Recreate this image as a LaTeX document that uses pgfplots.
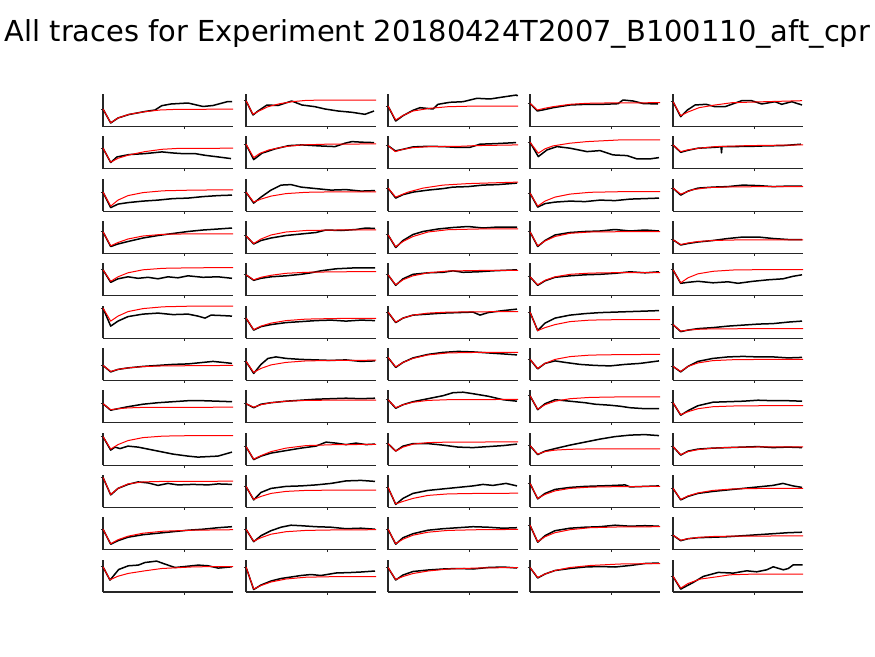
\documentclass[border=0pt]{standalone}
\usepackage{pgfplots}
\pgfplotsset{compat=1.18}
\usepackage{fontspec}
\setmainfont{DejaVu Sans}

\pgfplotsset{
  panel/.style={
    scale only axis, width=130pt, height=32.5pt,
    xmin=0, xmax=130, ymin=0, ymax=32.5,
    axis x line*=bottom, axis y line*=left,
    axis line style={-, line width=1.1pt, black!85},
    xtick={81.5}, xticklabels={}, yticklabels={},
    tick align=outside, major tick length=2.5pt,
    tick style={line width=0.8pt, black!85},
    clip=false, anchor=south west,
  },
}

% #1 left edge, #2 bottom edge (px from top), #3 start level, #4 trace, #5 fit
\newcommand{\panel}[5]{%
  \begin{axis}[panel, at={(#1pt,-#2pt)}, ytick={#3}]
    \addplot[black, line width=1.5pt, line join=round] coordinates {#4};
    \addplot[red, line width=1pt, line join=round] coordinates {#5};
  \end{axis}}

\begin{document}
\begin{tikzpicture}
\path[use as bounding box] (0pt,0pt) rectangle (875pt,-656pt);
\node[anchor=base, inner sep=0pt, font=\fontsize{28.9}{30}\selectfont] at (437.5pt,-41.5pt)
  {All traces for Experiment 20180424T2007\_B100110\_aft\_cpr};

% row 1
\panel{103}{126.5}{17.5}{(0,17.5)(7.7,3.5)(15,8.5)(26,12)(42,15)(52,16.5)(58.7,20.8)(68,22.5)(85,23.5)(100,20)(110,21)(125,25)(129,25)}
  {(0,17.5)(7.7,3.8)(15,8.5)(26,12.2)(42,14.8)(57,16.5)(75,17.2)(130,17.3)}
\panel{246}{126.5}{25.8}{(0,25.8)(7,11.5)(12,15.5)(21,21.5)(32,21)(45.7,25.5)(56,21.5)(69,19.8)(79,17.5)(92,15.5)(106,14.2)(119,12.2)(128,15.5)}
  {(0,25.8)(7,12.2)(12,15)(22,19.8)(34,22.8)(46,24.8)(60,26.1)(80,26.5)(130,26.5)}
\panel{388}{126.5}{20.5}{(0,20.5)(7.7,5.5)(15,10.8)(25,16.2)(32,18.8)(45,17.5)(50,22.2)(62,24.2)(75,24.8)(89,28.2)(102,27.5)(115,29.5)(128.5,31.5)(129.5,30.5)}
  {(0,20.5)(7.7,6.5)(15,11)(25,15.5)(42,18.2)(60,19.8)(85,20.4)(130,20.5)}
\panel{530}{126.5}{23.2}{(0,23.2)(7.3,15.5)(15,17)(23,18.8)(40,21.5)(57,22.2)(73,22.2)(88,22.8)(93,26.5)(103,25.5)(113,23)(128,22.5)}
  {(0,23.2)(7.3,16.5)(15,18.3)(23,19.8)(40,22.2)(57,23.2)(80,23.6)(130,23.8)}
\panel{673}{126.5}{24.8}{(0,24.8)(7.7,9.8)(14,16.2)(22,21.5)(33,22.2)(42,19.8)(52,19.8)(68.7,25.8)(78.7,25.8)(88.7,22.5)(102,24.8)(108.7,22.2)(118.7,24.8)(129,21.5)}
  {(0,24.8)(7.7,10.8)(15,14.5)(26,18.8)(42,21.5)(59,23.8)(92,24.8)(129,25.8)}

% row 2
\panel{103}{168.8}{20.6}{(0,20.6)(7.7,6.3)(14,11.9)(26,14.2)(42,15.2)(59,16.9)(69,15.9)(79,15.2)(92,15.2)(102,13.5)(115,11.9)(128,10.2)}
  {(0,20.6)(7.7,6.6)(15,10.5)(26,13.9)(42,17.2)(59,19.5)(75,20.4)(130,20.6)}
\panel{246}{168.8}{24.6}{(0,24.6)(7.7,9.2)(16,15.6)(29,19.9)(43,23.2)(56,23.9)(73,22.9)(89,22.2)(99,25.6)(106,27.2)(116,26.6)(128,26.2)}
  {(0,24.6)(7.7,11.2)(14,15.5)(23,18.9)(39,22.2)(56,23.9)(80,24.6)(130,24.9)}
\panel{388}{168.8}{23.2}{(0,23.2)(7.3,17.9)(15,19.5)(25,21.9)(40,22.5)(55,22.2)(67,21.5)(82,21.5)(92,24.6)(108,25.2)(128,26.2)}
  {(0,23.2)(7.3,17.2)(15,19.5)(25,21.2)(42,22.2)(70,22.4)(88,23.2)(130,23.9)}
\panel{530}{168.8}{26.6}{(0,26.6)(8.3,12.2)(17,18.9)(27,22.2)(40,20.6)(57,17.2)(70,18.2)(83,13.9)(97,13.2)(107,9.9)(120,9.9)(129,11.2)}
  {(0,26.6)(8.3,15.6)(15,20)(23,22.9)(40,25.6)(57,27.2)(90,28.9)(130,28.9)}
\panel{673}{168.8}{23.9}{(0,23.9)(7.7,16.5)(15,18.5)(25,20.6)(42,21.5)(48,22)(48.5,16)(49,22.2)(59,22.2)(80,22.5)(92,22.9)(110,23.2)(128,24.6)}
  {(0,23.9)(7.7,17.2)(15,19)(26,20.6)(42,22.2)(76,23.2)(130,23.9)}

% row 3
\panel{103}{211.1}{19}{(0,19)(7.7,3.5)(15,7)(25,8.5)(40,10)(55,11)(70,12.5)(85,13)(100,14.5)(115,15.5)(129,16)}
  {(0,19)(7.7,5)(15,11)(25,15.5)(40,18.5)(60,20.3)(90,21)(130,21.3)}
\panel{246}{211.1}{19}{(0,19)(7.7,8)(15,14)(25,21)(35,26)(45,26.5)(55,24)(70,22.5)(85,21)(100,21.5)(115,20)(129,20.5)}
  {(0,19)(7.7,9)(15,12)(25,15)(40,17.5)(60,18.8)(90,19.3)(130,19.3)}
\panel{388}{211.1}{23}{(0,23)(7.7,13)(15,16.5)(25,19)(40,21)(55,22.5)(65,24)(80,24.5)(95,26)(110,26.5)(129,28)}
  {(0,23)(7.7,14)(20,19)(35,23)(55,26)(80,27.5)(130,29)}
\panel{530}{211.1}{18}{(0,18)(7.7,4)(15,7.5)(25,9)(40,10)(55,9.5)(70,11)(85,10.5)(100,12)(115,12.5)(129,13)}
  {(0,18)(7.7,5)(15,10)(25,14)(40,17)(60,18.8)(90,19.4)(130,19.5)}
\panel{673}{211.1}{23}{(0,23)(7.7,16)(15,20)(25,23)(40,24)(55,24.5)(70,26)(85,25.5)(100,24.5)(115,25)(129,25)}
  {(0,23)(7.7,17)(20,21.5)(35,23.5)(60,24.3)(130,24.5)}

% row 4
\panel{103}{253.5}{21.7}{(0,21.7)(7.7,7)(15,9.5)(25,12)(40,15.5)(55,18)(70,20)(85,22)(100,23.5)(115,24.5)(129,25.5)}
  {(0,21.7)(7.7,7.7)(15,11)(25,14.5)(40,17.5)(60,19.2)(90,19.7)(130,19.7)}
\panel{246}{253.5}{17.7}{(0,17.7)(7.7,9.5)(15,13)(25,15.5)(40,18)(55,19.5)(70,21)(80,23.5)(95,23)(110,24)(120,25.5)(129,25)}
  {(0,17.7)(7.7,10)(15,14.5)(25,18.5)(40,21.5)(60,23)(90,23.5)(130,23.7)}
\panel{388}{253.5}{18.7}{(0,18.7)(7.7,6)(15,13)(25,19)(35,22)(50,24.5)(65,26)(80,27)(95,25.5)(110,26.5)(129,26.5)}
  {(0,18.7)(7.7,6.7)(15,12)(25,17)(40,21.5)(60,23.8)(90,24.5)(130,24.7)}
\panel{530}{253.5}{21.7}{(0,21.7)(7.7,7)(15,13)(25,18.5)(40,21)(55,22)(70,22.5)(85,24)(100,22.5)(115,23.5)(129,22.5)}
  {(0,21.7)(7.7,7.7)(15,12.5)(25,17)(40,20.2)(60,21.5)(90,21.8)(130,21.8)}
\panel{673}{253.5}{13.7}{(0,13.7)(7.7,8.5)(15,10)(25,11.5)(40,13)(55,15)(70,16.5)(85,16.5)(100,15)(115,14)(129,14)}
  {(0,13.7)(7.7,9)(15,10.5)(25,12)(40,13)(60,13.5)(130,13.7)}

% row 5
\panel{103}{295.8}{26}{(0,26)(7.7,13.5)(15,17)(25,19)(35,17.5)(45,18.5)(55,17)(65,19)(75,18)(85,20)(100,18.5)(115,19)(129,17.5)}
  {(0,26)(7.7,14.5)(15,19)(25,23)(40,26)(60,27.5)(90,28)(130,28.2)}
\panel{246}{295.8}{21}{(0,21)(7.7,15.5)(15,17.5)(25,19)(40,20)(55,21.5)(65,23)(75,25)(90,27)(110,28)(129,28)}
  {(0,21)(7.7,16)(15,18.5)(25,20.5)(40,22.5)(60,23.5)(90,24)(130,24.2)}
\panel{388}{295.8}{21}{(0,21)(7.7,10.5)(15,17)(25,21.5)(40,23)(55,23.5)(65,25)(75,23.5)(90,24)(105,25)(129,26)}
  {(0,21)(7.7,11)(15,16)(25,20)(40,23)(60,24.8)(90,25.3)(130,25.5)}
\panel{530}{295.8}{19}{(0,19)(7.7,10.5)(15,15)(25,18.5)(40,20)(55,21)(70,21.5)(85,22.5)(100,24)(115,23)(129,24)}
  {(0,19)(7.7,11)(15,15.5)(25,19)(40,21.5)(60,22.7)(90,23.2)(130,23.3)}
\panel{673}{295.8}{26}{(0,26)(7.7,12.5)(15,13.5)(25,14.5)(40,13)(55,14)(65,12.5)(80,14.5)(95,16)(110,17)(120,19.5)(129,21)}
  {(0,26)(7.7,13)(15,18)(25,22)(40,24.5)(60,25.8)(90,26.2)(130,26.3)}

% row 6
\panel{103}{338.1}{30}{(0,30)(7.7,12)(15,17)(25,21.5)(40,24)(55,25)(70,23.5)(85,24)(95,22)(102,20)(108,23)(120,22.5)(129,22)}
  {(0,30)(7.7,17)(15,22)(25,26.5)(40,29.5)(60,31.3)(90,32)(130,32)}
\panel{246}{338.1}{20}{(0,20)(7.7,8)(15,11.5)(25,13.5)(40,15.5)(55,16.5)(70,17.5)(85,18)(100,17)(115,18)(129,17.5)}
  {(0,20)(7.7,8.5)(15,12)(25,15)(40,17.5)(60,19)(90,19.6)(130,19.8)}
\panel{388}{338.1}{26}{(0,26)(7.7,15.5)(15,20)(25,23)(40,24)(55,25)(70,25.5)(85,26)(92,23)(100,25.5)(115,27.5)(129,29)}
  {(0,26)(7.7,16)(15,20)(25,23)(40,25)(60,26)(90,26.3)(130,26.5)}
\panel{530}{338.1}{26}{(0,26)(7.7,7.5)(15,15)(25,20)(40,23)(55,24.5)(70,25.5)(85,26)(100,26.5)(115,27)(129,27.5)}
  {(0,26)(7.7,7.5)(15,10.5)(25,13.5)(40,16.5)(60,18)(90,18.5)(130,18.5)}
\panel{673}{338.1}{13.5}{(0,13.5)(7.7,6.5)(15,8)(25,9.5)(40,10.5)(55,12)(70,13)(85,14)(100,14.5)(115,16)(129,17)}
  {(0,13.5)(7.7,7)(15,8)(25,8.8)(40,9.3)(130,9.5)}

% row 7
\panel{103}{380.4}{15}{(0,15)(7.7,8.5)(15,11)(25,12.5)(40,14)(55,15)(70,16)(85,16.5)(100,18)(110,19)(120,18)(129,17)}
  {(0,15)(7.7,9)(15,11)(25,12.5)(40,13.8)(60,14.5)(130,15)}
\panel{246}{380.4}{19}{(0,19)(7.7,7)(15,16)(22,22)(30,23.5)(40,22)(55,21)(70,20.5)(85,20)(100,20.5)(115,19)(129,19.5)}
  {(0,19)(7.7,8)(15,12)(25,15.5)(40,18)(60,19.5)(90,20)(130,20.2)}
\panel{388}{380.4}{23}{(0,23)(7.7,13)(15,18)(25,22.5)(40,26)(55,28)(70,29)(85,28.5)(100,27.5)(115,26.5)(129,25.5)}
  {(0,23)(7.7,13.5)(15,18)(25,22)(40,25.5)(60,27.5)(90,28)(130,28)}
\panel{530}{380.4}{21}{(0,21)(7.7,11.5)(15,17)(25,19.5)(35,18)(50,16)(65,15)(80,14.5)(95,16)(110,17)(129,19.5)}
  {(0,21)(7.7,12)(15,17)(25,21)(40,23.8)(60,25.3)(90,25.8)(130,26)}
\panel{673}{380.4}{14}{(0,14)(7.7,8.5)(15,14)(25,19)(40,22)(55,23.5)(70,24)(85,23.5)(100,23.5)(115,22.5)(129,23)}
  {(0,14)(7.7,9)(15,14)(25,17.5)(40,19.8)(60,20.7)(90,21)(130,21)}

% row 8
\panel{103}{422.7}{19}{(0,19)(7.7,12.5)(15,14)(25,16)(40,18.5)(55,20)(70,21)(85,22)(100,22)(115,21.5)(129,21)}
  {(0,19)(7.7,13)(15,14)(25,14.8)(40,15.3)(130,15.5)}
\panel{246}{422.7}{19}{(0,19)(7.7,15)(15,18.5)(25,20)(40,21.5)(55,22.5)(70,23.5)(85,24)(100,24.5)(115,24)(129,24.5)}
  {(0,19)(7.7,15.5)(15,18)(25,20)(40,21.5)(60,22.3)(90,22.6)(130,22.7)}
\panel{388}{422.7}{23}{(0,23)(7.7,14.5)(15,18)(25,21)(40,24)(55,27)(65,30)(75,30.5)(85,29)(100,26.5)(115,23)(129,21.5)}
  {(0,23)(7.7,15)(15,18)(25,20.5)(40,22.3)(60,23)(130,23.3)}
\panel{530}{422.7}{27}{(0,27)(7.7,13)(15,19)(25,23)(40,21.5)(55,20)(65,18.5)(80,17.5)(90,16.5)(100,15)(115,14)(129,14)}
  {(0,27)(7.7,13.5)(15,18)(25,21.5)(40,24)(60,25.3)(90,25.8)(130,25.8)}
\panel{673}{422.7}{20}{(0,20)(7.7,7.5)(15,12)(25,17)(40,20.5)(55,21)(70,21.5)(85,22.5)(100,22)(115,22)(129,21.5)}
  {(0,20)(7.7,8)(15,11)(25,14)(40,16)(60,16.7)(90,17)(130,17)}

% row 9
\panel{103}{465.1}{28.5}{(0,28.5)(7.7,15)(12,18)(17,16.5)(25,19)(35,18)(45,16)(55,14)(70,11)(85,9)(95,8)(105,8.5)(115,9)(122,11)(129,13)}
  {(0,28.5)(7.7,16)(15,20.5)(25,24.5)(40,27.5)(60,29)(90,29.5)(130,29.5)}
\panel{246}{465.1}{18.5}{(0,18.5)(7.7,5.5)(15,9)(25,12)(40,14.5)(55,17)(70,19)(80,23)(90,22)(100,20.5)(110,22)(120,20.5)(129,21)}
  {(0,18.5)(7.7,6)(15,9.5)(25,13.5)(40,17)(60,19.5)(90,20.5)(130,20.7)}
\panel{388}{465.1}{21.5}{(0,21.5)(7.7,14)(15,19)(25,21.5)(40,21.5)(55,20)(70,18)(85,17.5)(100,18.5)(115,19.5)(129,21)}
  {(0,21.5)(7.7,14)(15,18)(25,21)(40,22.5)(60,23)(130,23.2)}
\panel{530}{465.1}{19.5}{(0,19.5)(7.7,10.5)(15,14)(25,16.5)(40,20)(55,23)(70,26)(85,28.5)(100,30)(115,30.5)(129,29.5)}
  {(0,19.5)(7.7,11)(15,13.5)(25,15)(40,15.8)(60,16.2)(130,16.3)}
\panel{673}{465.1}{18.5}{(0,18.5)(7.7,10)(15,14)(25,16)(40,17)(55,17.5)(70,18)(85,18.5)(100,17.5)(115,18)(129,17.5)}
  {(0,18.5)(7.7,10.5)(15,13.5)(25,15.5)(40,17)(60,17.8)(90,18.2)(130,18.3)}

% row 10
\panel{103}{507.4}{30}{(0,30)(7.7,12.5)(15,19)(25,23)(35,25.5)(45,24.5)(55,22)(65,24)(75,22.5)(90,23)(105,22.5)(115,23.5)(129,23)}
  {(0,30)(7.7,13)(15,19)(25,23.5)(40,25.5)(60,26)(130,26.2)}
\panel{246}{507.4}{21}{(0,21)(7.7,7.5)(15,15)(25,19)(40,21)(55,21.5)(70,22.5)(85,24)(100,26.5)(115,27)(129,26)}
  {(0,21)(7.7,8)(15,11)(25,14)(40,16)(60,17)(90,17.3)(130,17.4)}
\panel{388}{507.4}{20}{(0,20)(7.7,3)(15,9)(25,14)(40,17)(55,18.5)(70,20)(85,21.5)(95,23)(105,22)(118,24)(129,21.5)}
  {(0,20)(7.7,3.5)(15,6)(25,9)(40,12)(60,13.5)(90,14)(130,14.2)}
\panel{530}{507.4}{24}{(0,24)(7.7,8.5)(15,14)(25,18)(40,20)(55,21)(70,21.5)(85,22)(95,22.5)(100,20.5)(115,21)(129,21.5)}
  {(0,24)(7.7,9)(15,13)(25,16.5)(40,19)(60,20.3)(90,20.8)(130,21)}
\panel{673}{507.4}{19}{(0,19)(7.7,7.5)(15,11)(25,14)(40,16)(55,17.5)(70,19)(85,20.5)(100,22)(110,24)(120,21.5)(129,20)}
  {(0,19)(7.7,8)(15,11.5)(25,14.5)(40,17)(60,18.5)(90,19)(130,19.1)}

% row 11
\panel{103}{549.7}{20.5}{(0,20.5)(7.7,5.5)(15,9)(25,12.5)(40,15)(55,16.5)(70,18)(85,19.5)(100,20.5)(115,22)(129,23)}
  {(0,20.5)(7.7,6)(15,10)(25,13.5)(40,16.5)(60,18.5)(90,19.5)(130,20)}
\panel{246}{549.7}{20.5}{(0,20.5)(7.7,8)(15,14)(25,19)(35,22.5)(45,24.5)(55,24)(70,23)(85,22.5)(100,21)(115,21.5)(129,20.5)}
  {(0,20.5)(7.7,8.5)(15,12)(25,15.5)(40,18)(60,19.3)(90,19.8)(130,20)}
\panel{388}{549.7}{20.5}{(0,20.5)(7.7,5.5)(15,12)(25,16)(40,19.5)(55,21)(70,22)(85,23)(100,22.5)(115,21.5)(129,22)}
  {(0,20.5)(7.7,6)(15,10.5)(25,14.5)(40,17.5)(60,19.3)(90,20)(130,20.3)}
\panel{530}{549.7}{24.5}{(0,24.5)(7.7,7.5)(15,14)(25,19)(40,21.5)(55,22.5)(70,23)(85,24.5)(100,23.5)(115,24)(129,23.5)}
  {(0,24.5)(7.7,8)(15,13)(25,17)(40,20)(60,22)(90,22.8)(130,23)}
\panel{673}{549.7}{14.5}{(0,14.5)(7.7,9)(15,11)(25,12)(40,12.5)(55,13)(70,14)(85,15)(100,16)(115,17)(129,17.5)}
  {(0,14.5)(7.7,9.5)(15,11)(25,12.3)(40,13.2)(60,13.6)(130,13.8)}

% row 12
\panel{103}{592}{25.2}{(0,25.2)(7,11.9)(15.7,22.5)(25.3,26.2)(35.3,26.9)(42,29.5)(53.7,30.9)(62,27.9)(72,24.5)(82,25.5)(95.3,26.9)(105.3,26.2)(115.3,23.9)(128.7,25.2)}
  {(0,25.2)(7,12.2)(15,15.8)(25.3,18.6)(42,21.2)(58.7,23.5)(92,25.2)(130,25.5)}
\panel{246}{592}{25}{(0,25)(7.7,2.5)(15,7)(25,11)(35,13.5)(45,15)(55,16.5)(65,17.5)(75,16.5)(90,19)(105,19.5)(115,20)(129,21)}
  {(0,25)(7.7,3)(15,6.5)(25,10)(40,13)(60,14.8)(90,15.4)(130,15.5)}
\panel{388}{592}{24.5}{(0,24.5)(7.7,12)(15,17)(25,20.5)(40,22)(55,23)(70,23.5)(85,23)(100,24.5)(115,25)(129,24)}
  {(0,24.5)(7.7,12.5)(15,15.5)(25,18.5)(40,21)(60,23)(90,24)(130,24.5)}
\panel{530}{592}{24.5}{(0,24.5)(7.7,14)(15,18)(25,21.5)(40,23.5)(55,25)(70,25.5)(85,25)(100,26.5)(115,28.5)(129,29)}
  {(0,24.5)(7.7,14.5)(15,18)(25,21.5)(40,24.5)(60,26.5)(90,28)(130,28.5)}
\panel{673}{592}{15.6}{(0,15.6)(7.7,2.9)(20.3,9.6)(30.3,15.6)(45.3,19.6)(60.3,18.9)(73.7,21.2)(83.7,20.2)(93.7,22.2)(100.3,25.2)(110.3,22.2)(115.3,23.5)(120.3,27.2)(129.7,27.2)}
  {(0,15.6)(7.7,3.9)(15,8.5)(27,12.9)(43.7,15.2)(57,17.2)(80,17.9)(130,17.9)}
\end{tikzpicture}
\end{document}
